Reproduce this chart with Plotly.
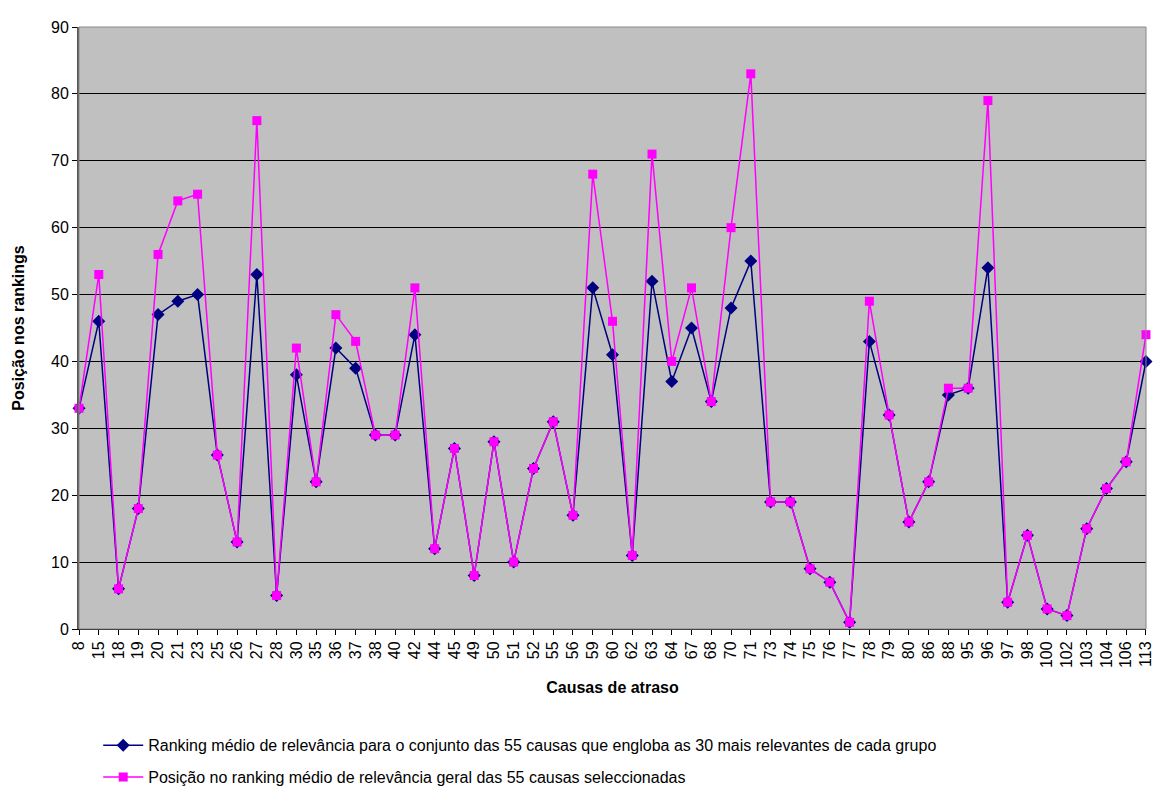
import plotly.graph_objects as go

causas = ["8", "15", "18", "19", "20", "21", "23", "25", "26", "27", "28", "30", "35", "36",
          "37", "38", "40", "42", "44", "45", "49", "50", "51", "52", "55", "56", "59", "60",
          "62", "63", "64", "67", "68", "70", "71", "73", "74", "75", "76", "77", "78", "79",
          "80", "86", "88", "95", "96", "97", "98", "100", "102", "103", "104", "106", "113"]

ranking_30 = [33, 46, 6, 18, 47, 49, 50, 26, 13, 53, 5, 38, 22, 42,
              39, 29, 29, 44, 12, 27, 8, 28, 10, 24, 31, 17, 51, 41,
              11, 52, 37, 45, 34, 48, 55, 19, 19, 9, 7, 1, 43, 32,
              16, 22, 35, 36, 54, 4, 14, 3, 2, 15, 21, 25, 40]

ranking_geral = [33, 53, 6, 18, 56, 64, 65, 26, 13, 76, 5, 42, 22, 47,
                 43, 29, 29, 51, 12, 27, 8, 28, 10, 24, 31, 17, 68, 46,
                 11, 71, 40, 51, 34, 60, 83, 19, 19, 9, 7, 1, 49, 32,
                 16, 22, 36, 36, 79, 4, 14, 3, 2, 15, 21, 25, 44]

xpos = list(range(len(causas)))

fig = go.Figure()
fig.add_trace(go.Scatter(
    x=xpos, y=ranking_30, mode="lines+markers", legendgroup="a",
    name="Ranking médio de relevância para o conjunto das 55 causas que engloba as 30 mais relevantes de cada grupo",
    line=dict(color="#000080", width=1.5),
    marker=dict(symbol="diamond", size=10, color="#000080"),
    cliponaxis=False,
))
fig.add_trace(go.Scatter(
    x=xpos, y=ranking_geral, mode="lines+markers", legendgroup="b",
    name="Posição no ranking médio de relevância geral das 55 causas seleccionadas",
    line=dict(color="#FF00FF", width=1.5),
    marker=dict(symbol="square", size=9, color="#FF00FF"),
    cliponaxis=False,
))

fig.update_layout(
    width=1153, height=788,
    paper_bgcolor="white",
    plot_bgcolor="#C0C0C0",
    font=dict(family="Arial, Liberation Sans", size=16, color="black"),
    margin=dict(l=79, r=7, t=27, b=159, autoexpand=False),
    legend=dict(
        x=0.018, y=-0.165, xanchor="left", yanchor="top",
        bgcolor="rgba(0,0,0,0)", font=dict(size=16),
        tracegroupgap=8, itemwidth=40,
    ),
    xaxis=dict(
        range=[-0.001, 54.001], tickvals=xpos, ticktext=causas, tickangle=-90,
        ticklabeloverflow="allow",
        showgrid=False, zeroline=False,
        showline=True, linecolor="black", linewidth=1, mirror=False,
        ticks="outside", ticklen=5, tickcolor="black",
        title=dict(text="<b>Causas de atraso</b>", standoff=14, font=dict(size=16)),
    ),
    yaxis=dict(
        range=[0, 90], dtick=10,
        showgrid=True, gridcolor="black", gridwidth=1, zeroline=False,
        showline=True, linecolor="#555555", linewidth=2,
        ticks="outside", ticklen=5, tickcolor="black",
        title=dict(text="<b>Posição nos rankings</b>", standoff=22, font=dict(size=16)),
    ),
)
fig.add_shape(type="rect", xref="paper", yref="paper", x0=0, y0=0, x1=1, y1=1,
              line=dict(color="#888888", width=1))

fig.write_html("out.html", config={"displayModeBar": False},
               post_script="document.body.style.margin='0';")
